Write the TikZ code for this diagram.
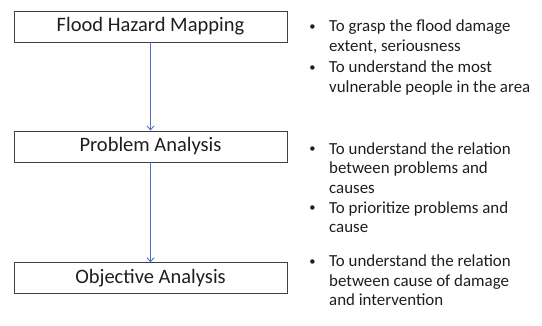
\documentclass[tikz,border=0pt]{standalone}
\usepackage{fontspec}
\setmainfont{Carlito}
\usetikzlibrary{arrows.meta}
\definecolor{flowblue}{RGB}{68,114,196}
\definecolor{boxline}{RGB}{64,64,64}
\definecolor{ink}{RGB}{30,30,30}
% a top-aligned stack of lines, so that the node's base is its first line
\newcommand{\linesat}[2]{{\fontsize{16.9}{#1}\selectfont
  \begin{tabular}[t]{@{}l@{}}#2\end{tabular}}}
% small list bullet
\newcommand{\smallbullet}{\raisebox{1.2pt}{\fontsize{12.5}{14}\selectfont\textbullet}}
\begin{document}
\begin{tikzpicture}[x=1pt,y=-1pt,
  stage/.style={draw=boxline, line width=0.9pt, minimum width=273pt,
    minimum height=31pt, inner sep=0pt, text=ink,
    font=\fontsize{20.5}{24}\selectfont},
  flow/.style={draw=flowblue, line width=0.9pt,
    -{Straight Barb[length=4pt,width=7pt]}},
  item/.style={anchor=base west, inner sep=0pt, text=ink,
    font=\fontsize{16.9}{20.3}\selectfont},
  dot/.style={anchor=base, inner sep=0pt, text=ink}]
  \useasboundingbox (0,0) rectangle (542,325);

  % process stages
  \node[stage] (hazard)    at (150.5,26.5)  {Flood Hazard Mapping};
  \node[stage] (problem)   at (150.5,146.5) {Problem Analysis};
  \node[stage] (objective) at (150.5,278.3) {Objective Analysis};

  \draw[flow] (hazard) -- (problem);
  \draw[flow] (problem) -- (objective);

  % purposes of each stage
  \node[dot]  (b1) at (312.5,31.5) {\smallbullet};
  \node[item] (t1) at (329,31.5) {\linesat{20.4}{To grasp the flood damage\\extent, seriousness}};
  \node[dot]  (b2) at (312.5,72.3) {\smallbullet};
  \node[item] (t2) at (329,72.3) {\linesat{20.4}{To understand the most\\vulnerable people in the area}};

  \node[dot]  (b3) at (312.5,154) {\smallbullet};
  \node[item] (t3) at (329,154) {\linesat{19.7}{To understand the relation\\between problems and\\causes}};
  \node[dot]  (b4) at (312.5,213) {\smallbullet};
  \node[item] (t4) at (329,213) {\linesat{19.7}{To prioritize problems and\\cause}};

  \node[dot]  (b5) at (312.5,266.5) {\smallbullet};
  \node[item] (t5) at (329,266.5) {\linesat{19.5}{To understand the relation\\between cause of damage\\and intervention}};
\end{tikzpicture}
\end{document}
